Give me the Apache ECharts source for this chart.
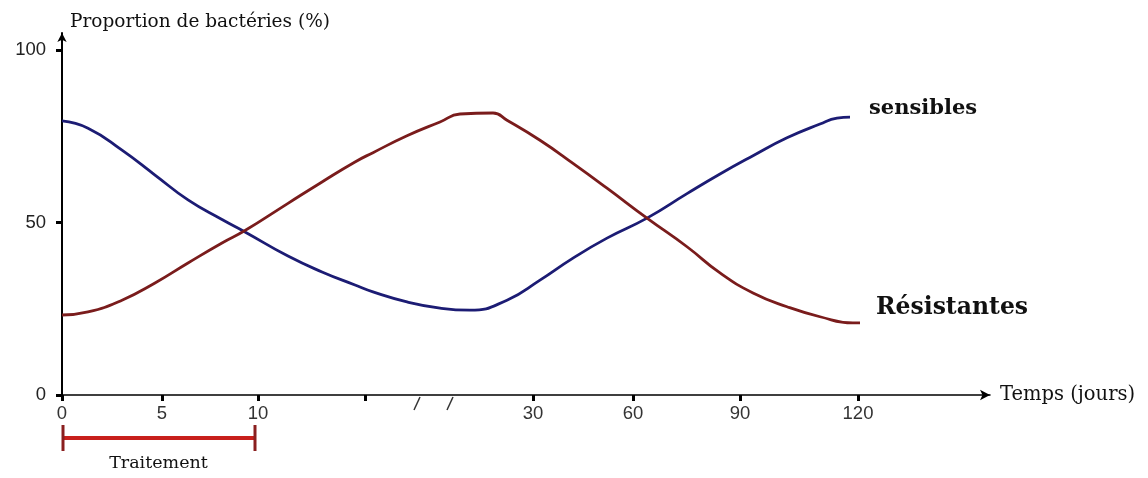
<!DOCTYPE html>
<html>
<head>
<meta charset="utf-8">
<title>Proportion de bactéries</title>
<script src="https://cdn.jsdelivr.net/npm/echarts@6/dist/echarts.min.js"></script>
<style>
  html, body { margin: 0; padding: 0; background: #fff; }
  #main { width: 1148px; height: 478px; }
</style>
</head>
<body>
<div id="main"></div>
<script>
// x positions are along the drawn (broken) time axis, one unit ~ one label slot
var xLabelPos = [0, 1, 1.96, 4.71, 5.71, 6.78, 7.96];
var xLabels = ['0', '5', '10', '30', '60', '90', '120'];
var xTickPos = [0, 1, 1.96, 3.03, 4.71, 5.71, 6.78, 7.96];
var breakPos = [3.55, 3.88];
var treatment = [0, 1.93];

var yLabelVals = [0, 50, 100];

// Sensibles (blue)
var sensiblesX = [0, 0.26, 0.6, 0.93, 1.26, 1.6, 1.83, 2.26, 2.6, 2.93, 3.11, 3.45, 3.78, 4.08,
  4.45, 4.78, 5.11, 5.45, 5.85, 6.25, 6.58, 6.91, 7.25, 7.58, 7.75, 7.88];
var sensiblesY = [79.5, 77.4, 71.0, 63.8, 56.6, 50.9, 47.3, 40.3, 35.7, 31.9, 29.9, 27.0, 25.2, 24.6,
  27.5, 33.3, 39.7, 45.5, 51.3, 58.4, 64.1, 69.4, 74.6, 78.6, 80.3, 80.6];

// Résistantes (dark red)
var resistX = [0, 0.26, 0.6, 0.93, 1.26, 1.6, 1.83, 2.26, 2.6, 2.93, 3.11, 3.45, 3.78, 3.98, 4.31,
  4.45, 4.78, 5.11, 5.45, 5.85, 6.25, 6.58, 6.91, 7.25, 7.58, 7.91, 7.98];
var resistY = [23.2, 24.1, 27.5, 32.5, 38.3, 44.1, 47.7, 55.6, 61.8, 67.6, 70.3, 75.2, 79.2, 81.5, 81.8,
  79.7, 73.9, 67.2, 60.0, 51.3, 43.0, 35.4, 29.6, 25.6, 22.7, 20.9, 20.9];

var myChart;

function zip(xs, ys) {
  var i, out = [];
  for (i = 0; i < xs.length; i++) {
    out.push([xs[i], ys[i]]);
  }
  return out;
}

function labelFor(v) {
  var i;
  for (i = 0; i < xLabelPos.length; i++) {
    if (Math.abs(xLabelPos[i] - v) < 1e-6) return xLabels[i];
  }
  return '';
}

function paint() {
  myChart = echarts.init(document.getElementById('main'));

  var option = {
    animation: false,
    backgroundColor: '#fff',
    grid: {
      left: 62,
      right: 158,
      top: 33,
      bottom: 83,
      outerBoundsMode: 'none'
    },
    xAxis: {
      type: 'value',
      min: 0,
      max: 9.28,
      name: 'Temps (jours)',
      nameLocation: 'end',
      nameGap: 10,
      nameTextStyle: {
        fontFamily: 'DejaVu Serif',
        fontSize: 19.5,
        color: '#111',
        padding: [0, 0, 14, 0]
      },
      axisLine: {
        onZero: false,
        symbol: ['none', 'arrow'],
        symbolSize: [8, 10],
        lineStyle: { color: '#000', width: 1.5 }
      },
      axisTick: {
        customValues: xTickPos,
        length: 6,
        lineStyle: { color: '#000', width: 3 }
      },
      axisLabel: {
        customValues: xLabelPos,
        formatter: labelFor,
        margin: 9,
        fontFamily: 'Liberation Sans',
        fontSize: 18.5,
        color: '#333'
      },
      splitLine: { show: false }
    },
    yAxis: {
      type: 'value',
      min: 0,
      max: 105,
      name: 'Proportion de bactéries (%)',
      nameLocation: 'end',
      nameGap: 1,
      nameTextStyle: {
        align: 'left',
        fontFamily: 'DejaVu Serif',
        fontSize: 18.5,
        color: '#111',
        padding: [0, 0, 0, 8]
      },
      axisLine: {
        symbol: ['none', 'arrow'],
        symbolSize: [7, 9],
        lineStyle: { color: '#000', width: 2 }
      },
      axisTick: {
        customValues: yLabelVals,
        length: 6,
        lineStyle: { color: '#000', width: 3 }
      },
      axisLabel: {
        customValues: yLabelVals,
        margin: 16,
        fontFamily: 'Liberation Sans',
        fontSize: 18.5,
        color: '#222'
      },
      splitLine: { show: false }
    },
    series: [
      {
        name: 'sensibles',
        type: 'line',
        smooth: 0.5,
        showSymbol: false,
        lineStyle: { color: '#1c1c74', width: 2.8 },
        endLabel: {
          show: true,
          formatter: '{a}',
          offset: [11, -9],
          fontFamily: 'DejaVu Serif',
          fontWeight: 'bold',
          fontSize: 21,
          color: '#111'
        },
        data: zip(sensiblesX, sensiblesY)
      },
      {
        name: 'Résistantes',
        type: 'line',
        smooth: 0.5,
        showSymbol: false,
        lineStyle: { color: '#7a1c1c', width: 2.8 },
        endLabel: {
          show: true,
          formatter: '{a}',
          offset: [8, -15],
          fontFamily: 'DejaVu Serif',
          fontWeight: 'bold',
          fontSize: 23.5,
          color: '#111'
        },
        data: zip(resistX, resistY)
      },
      {
        // treatment bracket under the axis
        type: 'custom',
        clip: false,
        silent: true,
        data: [treatment],
        renderItem: function (params, api) {
          var p0 = api.coord([api.value(0), 0]);
          var p1 = api.coord([api.value(1), 0]);
          var y = p0[1] + 43;
          return {
            type: 'group',
            children: [
              { type: 'line', shape: { x1: p0[0], y1: y, x2: p1[0], y2: y },
                style: { stroke: '#c8201c', lineWidth: 4 } },
              { type: 'line', shape: { x1: p0[0] + 1, y1: y - 13, x2: p0[0] + 1, y2: y + 13 },
                style: { stroke: '#8a1f1f', lineWidth: 3 } },
              { type: 'line', shape: { x1: p1[0], y1: y - 13, x2: p1[0], y2: y + 13 },
                style: { stroke: '#8a1f1f', lineWidth: 3 } },
              { type: 'text', style: { text: 'Traitement', x: (p0[0] + p1[0]) / 2, y: y + 25,
                  align: 'center', verticalAlign: 'middle', fontFamily: 'DejaVu Serif',
                  fontSize: 17.5, fill: '#111' } }
            ]
          };
        }
      },
      {
        // axis break marks
        type: 'custom',
        clip: false,
        silent: true,
        data: breakPos.map(function (p) { return [p]; }),
        renderItem: function (params, api) {
          var p = api.coord([api.value(0), 0]);
          return {
            type: 'line',
            shape: { x1: p[0] + 3, y1: p[1] + 2, x2: p[0] - 3, y2: p[1] + 15 },
            style: { stroke: '#333', lineWidth: 1.5 }
          };
        }
      }
    ]
  };

  myChart.setOption(option);
}

paint();
</script>
</body>
</html>
